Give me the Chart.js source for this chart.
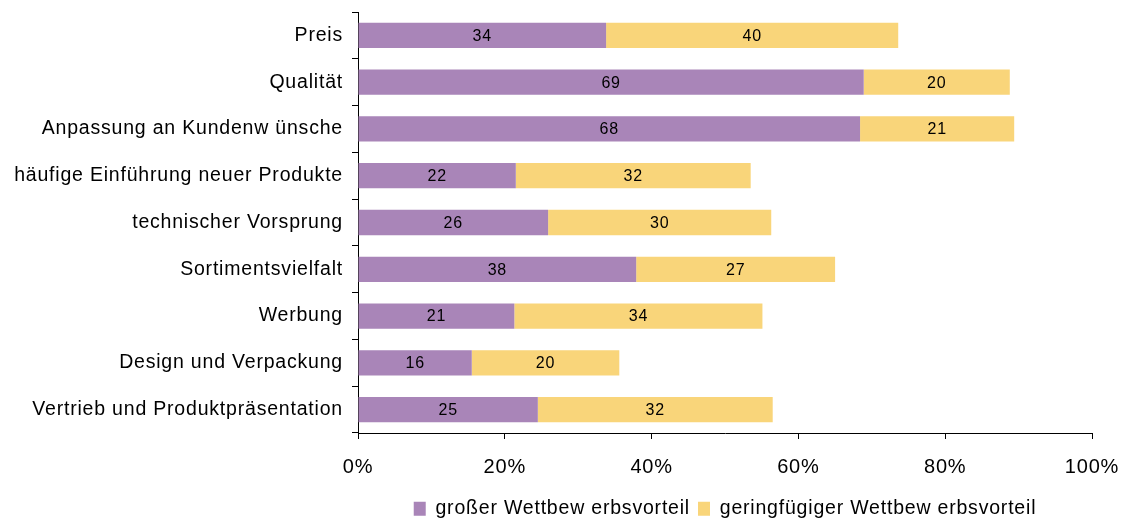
<!DOCTYPE html>
<html>
<head>
<meta charset="utf-8">
<script src="https://cdn.jsdelivr.net/npm/chart.js@4"></script>
<style>
  html, body { margin: 0; padding: 0; background: #fff; }
  #wrap { width: 1123px; height: 518px; }
</style>
</head>
<body>
<div id="wrap"><canvas id="chart" width="1123" height="518"></canvas></div>
<script>
const categories = [
    "Preis",
    "Qualität",
    "Anpassung an Kundenw ünsche",
    "häufige Einführung neuer Produkte",
    "technischer Vorsprung",
    "Sortimentsvielfalt",
    "Werbung",
    "Design und Verpackung",
    "Vertrieb und Produktpräsentation"
];
const grosser = [33.8, 68.9, 68.4, 21.5, 25.9, 37.9, 21.3, 15.5, 24.5];
const geringer = [39.8, 19.9, 21.0, 32.0, 30.4, 27.1, 33.8, 20.1, 32.0];
const xTicks = [0, 20, 40, 60, 80, 100];

const FONT = "'Liberation Sans', Arial, sans-serif";

// the old office export draws its text a bit wide
const spacing = {
    id: "spacing",
    beforeUpdate(chart) { chart.ctx.letterSpacing = "0.8px"; },
    beforeDraw(chart) { chart.ctx.letterSpacing = "0.8px"; }
};

// values inside the bars
const barLabels = {
    id: "barLabels",
    afterDatasetsDraw(chart) {
        const ctx = chart.ctx;
        ctx.save();
        ctx.font = "16px " + FONT;
        ctx.fillStyle = "#000";
        ctx.textAlign = "center";
        ctx.textBaseline = "middle";
        chart.data.datasets.forEach((ds, i) => {
            chart.getDatasetMeta(i).data.forEach((bar, j) => {
                const cx = (bar.x + bar.base) / 2;
                ctx.fillText(Math.round(ds.data[j]), cx, bar.y + 1);
            });
        });
        ctx.restore();
    }
};

new Chart(document.getElementById("chart"), {
    type: "bar",
    data: {
        labels: categories,
        datasets: [
            {
                label: "großer Wettbew erbsvorteil",
                data: grosser,
                backgroundColor: "#a985b8",
                barPercentage: 0.54,
                categoryPercentage: 1
            },
            {
                label: "geringfügiger Wettbew erbsvorteil",
                data: geringer,
                backgroundColor: "#f9d57a",
                barPercentage: 0.54,
                categoryPercentage: 1
            }
        ]
    },
    options: {
        indexAxis: "y",
        responsive: false,
        animation: false,
        layout: { padding: { top: 12, right: 0, left: 0, bottom: 0 } },
        scales: {
            x: {
                stacked: true,
                min: 0,
                max: 100,
                afterBuildTicks: (axis) => {
                    axis.ticks = xTicks.map(v => ({ value: v }));
                },
                afterFit: (axis) => {
                    axis.paddingLeft = 0;
                    axis.paddingRight = 31;
                    axis.height = 58;
                },
                border: { display: true, color: "#000", width: 1 },
                grid: {
                    drawOnChartArea: false,
                    drawTicks: true,
                    tickLength: 6,
                    color: "#000"
                },
                ticks: {
                    color: "#000",
                    font: { family: FONT, size: 20 },
                    padding: 16,
                    maxRotation: 0,
                    callback: (v) => v + "%"
                }
            },
            y: {
                stacked: true,
                offset: true,
                afterFit: (axis) => {
                    axis.width = 358;
                    axis.paddingTop = 0;
                    axis.paddingBottom = 0;
                },
                border: { display: true, color: "#000", width: 1 },
                grid: {
                    offset: true,
                    drawOnChartArea: false,
                    drawTicks: true,
                    tickLength: 6,
                    color: "#000"
                },
                ticks: {
                    color: "#000",
                    font: { family: FONT, size: 19.5 },
                    padding: 9
                }
            }
        },
        plugins: {
            legend: {
                position: "bottom",
                fullSize: false,
                maxHeight: 27,
                labels: {
                    color: "#000",
                    font: { family: FONT, size: 19.5 },
                    boxWidth: 12,
                    boxHeight: 14,
                    padding: 8
                }
            },
            tooltip: { enabled: false }
        }
    },
    plugins: [spacing, barLabels]
});
</script>
</body>
</html>
